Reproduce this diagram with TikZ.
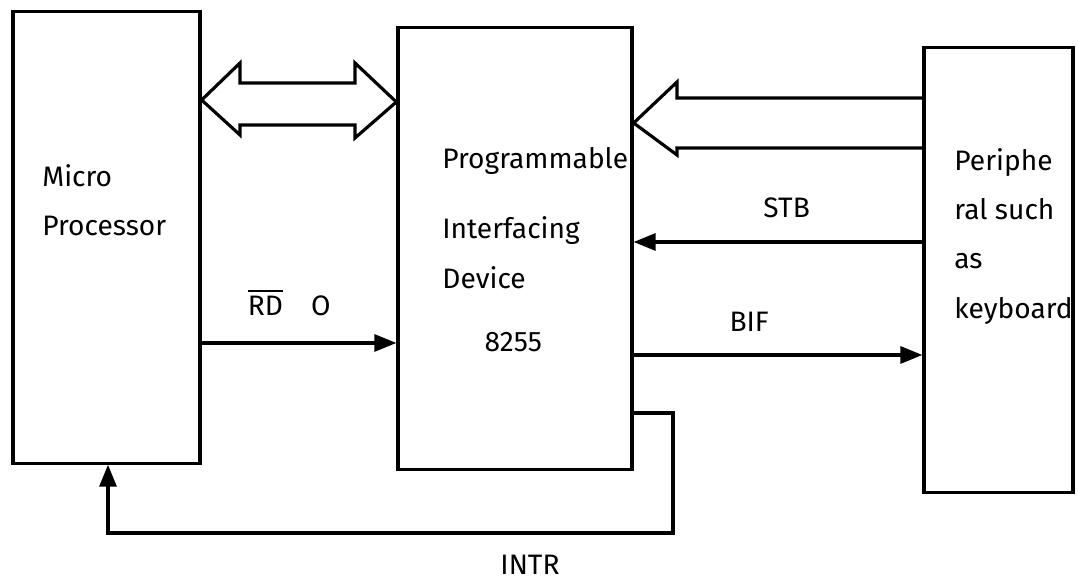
\documentclass[tikz,border=0pt]{standalone}
\usepackage{fontspec}
\setmainfont{Fira Sans}
\usetikzlibrary{arrows.meta}

\tikzset{
  block/.style={draw, line width=0.9pt, inner sep=0pt},
  sig/.style={line width=0.9pt, -{Triangle[length=2.2mm, width=1.7mm]}},
  bus/.style={line width=0.9pt, line join=miter},
  lbl/.style={font=\fontsize{8}{14}\selectfont}
}

\begin{document}
\begin{tikzpicture}[x=0.01cm, y=-0.01cm]
    \useasboundingbox (0,0) rectangle (1078,583);
    % blocks
    \node[block, minimum width=1.87cm, minimum height=4.51cm] (mp) at (106.5,237.5) {};
    \node[block, minimum width=2.34cm, minimum height=4.41cm] (pid) at (515,248.5) {};
    \node[block, minimum width=1.49cm, minimum height=4.44cm] (per) at (998.5,270) {};
    \node[lbl, align=left, anchor=north west] (mptext) at (30,152) {Micro\\Processor};
    \node[lbl, align=left, anchor=north west] (pidtext) at (430,135) {Programmable\\[6pt]Interfacing\\Device\\[4pt]\hspace*{12pt}8255};
    \node[lbl, align=left, anchor=north west] (pertext) at (942,136) {Periphe\\ral such\\as\\keyboard};
    % bus between processor and 8255
    \coordinate (busl) at (mp.east |- 0,100);
    \coordinate (busr) at (pid.west |- 0,102);
    \draw[bus] (busl) -- (240,63) -- (240,83) -- (355,83) -- (355,63) -- (busr)
        -- (355,138) -- (355,125) -- (240,125) -- (240,135) -- cycle;
    % port from peripheral
    \coordinate (portin) at (pid.east |- 0,123);
    \draw[bus] (per.west |- 0,98) -- (677,98) -- (677,82) -- (portin)
        -- (677,155) -- (677,148) -- (per.west |- 0,148);
    % handshake signals
    \draw[sig] (per.west |- 0,242) -- (pid.east |- 0,242) node[lbl, pos=0.47, above=3pt] (stb) {STB};
    \draw[sig] (pid.east |- 0,355) -- (per.west |- 0,355) node[lbl, pos=0.4, above=3pt] (bif) {BIF};
    \draw[sig] (mp.east |- 0,343) -- (pid.west |- 0,343) node[lbl, pos=0.45, above=4pt] (rd) {$\overline{\mathrm{RD}}$\quad O};
    % interrupt request
    \coordinate (introut) at (pid.east |- 0,413);
    \coordinate (intrin) at (108,0 |- mp.south);
    \draw[sig] (introut) -- (673,413) -- (673,533) -- (108,533) -- (intrin);
    \node[lbl] (intr) at (530,565) {INTR};
\end{tikzpicture}
\end{document}
